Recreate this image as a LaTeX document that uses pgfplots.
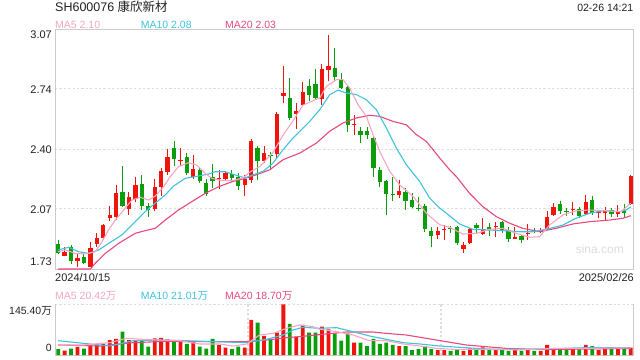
\documentclass[border=0pt]{standalone}
\usepackage{pgfplots}
\pgfplotsset{compat=1.18}
\usepackage{pgfplotstable}
\usepackage{fontspec}
\setmainfont{Liberation Sans}
\newfontfamily\cjk{Noto Sans CJK SC}
\definecolor{upred}{HTML}{F0140C}
\definecolor{dngreen}{HTML}{0A9E0A}
\definecolor{maA}{HTML}{F7A6C2}
\definecolor{maB}{HTML}{3EC3E0}
\definecolor{maC}{HTML}{E8497D}
\definecolor{framegray}{HTML}{CCCCCC}
\definecolor{gridgray}{HTML}{DDDDDD}
\definecolor{txt}{HTML}{222222}

% candles: i open high low close
\pgfplotstableread{
i o h l c
1 1.807 1.854 1.805 1.829
3 1.779 1.817 1.746 1.794
5 1.746 1.884 1.744 1.850
6 1.872 1.935 1.857 1.906
7 1.908 1.984 1.895 1.977
8 2.019 2.085 2.001 2.033
9 2.025 2.200 2.006 2.155
11 2.066 2.164 2.036 2.133
12 2.122 2.248 2.109 2.200
15 2.066 2.237 2.058 2.189
16 2.189 2.297 2.140 2.278
17 2.276 2.401 2.259 2.358
19 2.338 2.408 2.308 2.344
21 2.248 2.368 2.235 2.289
25 2.236 2.286 2.181 2.242
26 2.237 2.278 2.230 2.270
29 2.199 2.256 2.138 2.233
30 2.228 2.457 2.215 2.447
32 2.337 2.418 2.326 2.379
34 2.377 2.609 2.349 2.598
35 2.700 2.866 2.658 2.715
37 2.598 2.658 2.516 2.617
38 2.650 2.777 2.647 2.721
41 2.680 2.877 2.647 2.848
42 2.846 3.038 2.781 2.866
46 2.538 2.594 2.483 2.544
53 2.148 2.231 2.129 2.167
59 1.924 1.966 1.898 1.945
60 1.950 1.977 1.895 1.956
63 1.845 1.885 1.820 1.867
64 1.876 1.960 1.872 1.956
66 1.928 2.016 1.923 1.954
68 1.966 1.997 1.910 1.972
71 1.903 1.966 1.899 1.909
73 1.926 1.984 1.895 1.932
75 1.939 1.960 1.935 1.951
76 1.956 2.055 1.951 2.021
77 2.034 2.100 2.030 2.081
80 2.063 2.109 2.034 2.069
82 2.040 2.146 2.036 2.105
84 2.044 2.062 2.016 2.050
85 2.047 2.081 1.999 2.057
87 2.040 2.090 2.025 2.057
89 2.096 2.258 2.090 2.252
}\redtab
\pgfplotstableread{
i o h l c
0 1.872 1.895 1.817 1.824
2 1.857 1.867 1.761 1.779
4 1.801 1.817 1.761 1.768
10 2.163 2.308 2.077 2.085
13 2.207 2.256 2.062 2.086
14 2.085 2.103 2.025 2.062
18 2.408 2.447 2.308 2.349
20 2.358 2.379 2.256 2.270
22 2.286 2.304 2.215 2.224
23 2.211 2.234 2.140 2.152
24 2.245 2.319 2.187 2.226
27 2.263 2.286 2.220 2.243
28 2.248 2.267 2.174 2.196
31 2.408 2.418 2.230 2.337
33 2.367 2.386 2.289 2.361
36 2.688 2.799 2.565 2.576
39 2.753 2.795 2.669 2.706
40 2.766 2.848 2.676 2.688
43 2.855 2.967 2.781 2.806
44 2.790 2.829 2.739 2.743
45 2.747 2.762 2.498 2.538
47 2.502 2.527 2.436 2.483
48 2.502 2.526 2.457 2.483
49 2.464 2.479 2.248 2.297
50 2.284 2.301 2.192 2.217
51 2.222 2.231 2.036 2.153
52 2.151 2.246 2.114 2.145
54 2.163 2.185 2.064 2.114
55 2.118 2.155 2.073 2.079
56 2.076 2.133 2.055 2.070
57 2.083 2.096 1.939 1.958
58 1.945 1.966 1.856 1.917
61 1.961 1.973 1.932 1.954
62 1.966 1.973 1.867 1.880
65 1.977 1.988 1.932 1.962
67 1.969 1.988 1.917 1.954
69 1.995 2.002 1.935 1.945
70 1.951 1.966 1.885 1.899
72 1.917 1.923 1.880 1.895
74 1.951 1.962 1.934 1.941
78 2.096 2.114 2.040 2.057
79 2.056 2.072 2.029 2.050
81 2.066 2.077 2.016 2.030
83 2.116 2.140 2.034 2.044
86 2.062 2.072 2.025 2.038
88 2.062 2.096 2.025 2.047
}\greentab

\pgfplotstableread{
i p
0 1.829
1.1 1.839
2.66 1.820
4.2 1.817
5.76 1.829
6.8 1.885
7.84 1.951
8.87 2.006
10.17 2.062
11.46 2.118
12.75 2.133
14.05 2.118
15.08 2.140
16.38 2.192
17.4 2.248
18.7 2.304
20.26 2.326
21.55 2.313
22.84 2.267
23.88 2.239
25.43 2.226
27 2.226
28.74 2.241
29.78 2.274
31.34 2.305
33.4 2.385
34.95 2.480
36.5 2.560
38.06 2.648
39.6 2.672
40.65 2.688
41.7 2.753
43.25 2.790
44.27 2.790
45.3 2.743
46.6 2.650
47.9 2.585
48.93 2.483
49.97 2.390
51.5 2.280
53.07 2.203
55.14 2.139
57.2 2.045
59.29 1.980
60.84 1.966
62.9 1.928
65 1.932
67.05 1.954
69.1 1.960
71.2 1.932
73.26 1.910
74.8 1.913
76.37 1.978
78.43 2.034
80.5 2.058
82.58 2.062
85.17 2.058
87.5 2.053
89 2.100
}\maAtab
\pgfplotstableread{
i p
0 1.839
1.63 1.854
3.18 1.829
4.74 1.820
6.29 1.839
7.84 1.876
9.9 1.923
11.97 1.997
13.52 2.053
15.08 2.100
16.63 2.146
17.93 2.196
19.74 2.239
21.8 2.252
23.37 2.263
24.4 2.276
25.95 2.276
27.5 2.258
29.05 2.241
30.3 2.259
31.85 2.278
33.4 2.325
34.95 2.399
36.5 2.464
39.1 2.557
40.65 2.622
42.2 2.706
43.5 2.732
44.8 2.715
46.35 2.706
47.9 2.678
49.46 2.622
51 2.520
52.56 2.408
54.1 2.315
56.18 2.222
57.73 2.129
59.29 2.073
60.84 2.030
62.4 1.984
64.46 1.954
66.54 1.951
69.1 1.947
71.7 1.941
73.77 1.941
75.85 1.954
78.43 1.978
80.5 2.016
82.58 2.044
84.66 2.058
87.24 2.053
88.28 2.062
89 2.080
}\maBtab
\pgfplotstableread{
i p
0 1.733
5.0 1.733
5.76 1.765
7.31 1.820
9.39 1.876
11.97 1.932
13.52 1.947
15.08 1.960
16.63 2.006
18.7 2.062
20.78 2.109
22.84 2.155
24.92 2.192
27 2.220
29.05 2.239
30.8 2.259
32.9 2.287
34.95 2.343
37.55 2.380
40.14 2.436
42.2 2.502
44.27 2.548
46.35 2.576
48.42 2.591
49.97 2.585
52.03 2.557
54.1 2.538
55.67 2.483
57.2 2.446
59.29 2.353
60.84 2.287
61.9 2.248
63.95 2.155
66 2.081
68.1 2.025
70.2 1.988
72.2 1.960
74.8 1.941
77.4 1.960
79.97 1.984
82.58 1.997
85.68 2.006
87.75 2.016
89 2.030
}\maCtab

% volume (10k shares)
\pgfplotstableread{
i v
1 12.4
3 23.0
5 27.7
6 31.6
7 31.6
8 43.0
9 45.9
11 43.0
12 40.2
15 47.8
16 48.8
17 45.0
19 39.2
21 38.3
25 28.7
26 21.0
29 21.0
30 100.4
32 54.5
34 64.1
35 145.4
37 52.6
38 86.1
41 81.3
42 73.7
46 35.4
53 25.8
59 14.3
60 14.3
63 11.5
64 19.1
66 22.0
68 16.3
71 14.3
73 14.3
75 11.5
76 28.7
77 19.1
80 19.1
82 28.7
84 14.3
85 21.0
87 22.0
89 21.0
}\volred
\pgfplotstableread{
i v
0 17.2
2 18.2
4 18.2
10 67.0
13 40.2
14 23.9
18 39.2
20 31.6
22 23.9
23 18.2
24 45.9
27 17.2
28 23.9
31 92.8
33 45.9
36 89.0
39 64.1
40 64.1
43 62.2
44 41.1
45 62.2
47 35.4
48 25.8
49 45.9
50 31.6
51 35.4
52 28.7
54 25.8
55 14.3
56 17.2
57 25.8
58 17.2
61 11.5
62 14.3
65 16.3
67 14.3
69 14.3
70 11.5
72 11.5
74 11.5
78 16.3
79 14.3
81 16.3
83 25.8
86 19.1
88 19.1
}\volgreen
\pgfplotstableread{
i v
0 28.7
3.9 28.7
8.04 35.4
10.6 47.8
13.2 45.0
15.8 43.0
18.9 41.0
22 31.6
25.1 31.6
27.2 25.8
29.3 31.6
31.3 57.4
33.4 62.2
35.5 76.5
37.5 86.1
39.6 81.3
40.65 73.7
43.25 67.0
45.8 57.4
48.4 41.1
51 41.1
53.6 31.6
56.2 25.8
58.8 19.1
61.35 16.3
66.5 16.3
71.7 14.3
76.9 19.1
82.1 19.1
89 20.42
}\vmaA
\pgfplotstableread{
i v
0 41.1
3.9 33.5
8.04 25.8
11.7 41.1
15.8 43.0
19.95 41.0
24.1 38.3
29.3 35.4
32.4 45.0
34.95 57.4
36.5 71.7
38.06 79.4
40.65 76.5
43.25 78.4
45.8 67.0
48.4 54.5
51 45.0
53.6 35.4
56.2 31.6
59.3 25.8
62.4 22.0
66.5 17.2
71.7 16.3
76.9 18.2
82.1 21.0
89 21.01
}\vmaB
\pgfplotstableread{
i v
0 28.7
6.5 25.8
11.7 35.4
16.8 39.2
22 38.3
27.2 38.3
29.3 38.3
32.4 43.0
35.5 49.7
37.5 52.6
40.4 58.0
44.8 66.0
48.9 66.0
51 62.0
54.1 57.4
57.2 47.8
60.3 38.3
63.4 28.7
66.5 23.9
69.6 19.1
73.7 16.3
78.4 16.3
82.1 17.2
89 18.70
}\vmaC

\begin{document}
\begin{tikzpicture}
\useasboundingbox (0bp,0bp) rectangle (640bp,360bp);
\fill[white] (0bp,0bp) rectangle (640bp,360bp);
% ---------- price panel ----------
\begin{axis}[
  at={(55bp,90.5bp)}, anchor=south west,
  width=579bp, height=240bp, scale only axis,
  xmin=-0.5, xmax=89.5, ymin=1.73, ymax=3.07,
  axis line style={framegray, line width=1bp},
  xtick=\empty, ytick={2.07,2.40,2.74}, yticklabels={},
  major tick length=0pt,
  ymajorgrids,
  grid style={gridgray, line width=1.3bp, dash pattern=on 2.2bp off 2.2bp},
  clip=true,
]
% wicks
\addplot[draw=none, mark=none, forget plot,
  error bars/.cd, y dir=plus, y explicit, error mark=none,
  error bar style={draw=upred, line width=1bp, solid}]
  table[x=i, y=l, y error plus expr=\thisrow{h}-\thisrow{l}] {\redtab};
\addplot[draw=none, mark=none, forget plot,
  error bars/.cd, y dir=plus, y explicit, error mark=none,
  error bar style={draw=dngreen, line width=1bp, solid}]
  table[x=i, y=l, y error plus expr=\thisrow{h}-\thisrow{l}] {\greentab};
% bodies
\addplot[draw=none, mark=none, forget plot,
  error bars/.cd, y dir=plus, y explicit, error mark=none,
  error bar style={draw=upred, line width=4.3bp, solid}]
  table[x=i, y=o, y error plus expr=\thisrow{c}-\thisrow{o}] {\redtab};
\addplot[draw=none, mark=none, forget plot,
  error bars/.cd, y dir=plus, y explicit, error mark=none,
  error bar style={draw=dngreen, line width=4.3bp, solid}]
  table[x=i, y=c, y error plus expr=\thisrow{o}-\thisrow{c}] {\greentab};
% moving averages
\addplot[maC, line width=1.1bp, mark=none] table[x=i, y=p] {\maCtab};
\addplot[maB, line width=1.1bp, mark=none] table[x=i, y=p] {\maBtab};
\addplot[maA, line width=1.1bp, mark=none] table[x=i, y=p] {\maAtab};
\end{axis}
% ---------- volume panel ----------
\begin{axis}[
  at={(55bp,5bp)}, anchor=south west,
  width=579bp, height=50.7bp, scale only axis,
  xmin=-0.5, xmax=89.5, ymin=0, ymax=145.4,
  axis line style={draw=none},
  xtick={29.5,59.5}, xticklabels={}, ytick={145.4}, yticklabels={},
  major tick length=0pt,
  xmajorgrids, ymajorgrids,
  grid style={gridgray, line width=1.3bp, dash pattern=on 2.2bp off 2.2bp},
  clip=false,
]
\draw[framegray, line width=1bp] (rel axis cs:0,1) -- (rel axis cs:0,0) -- (rel axis cs:1,0) -- (rel axis cs:1,1);
\addplot[ybar, bar width=3.8bp, bar shift=0pt, fill=upred, draw=none] table[x=i, y=v] {\volred};
\addplot[ybar, bar width=3.8bp, bar shift=0pt, fill=dngreen, draw=none] table[x=i, y=v] {\volgreen};
\addplot[maC, line width=1.1bp, mark=none] table[x=i, y=v] {\vmaC};
\addplot[maB, line width=1.1bp, mark=none] table[x=i, y=v] {\vmaB};
\addplot[maA, line width=1.1bp, mark=none] table[x=i, y=v] {\vmaA};
\end{axis}
% ---------- texts ----------
\begin{scope}[every node/.style={inner sep=0pt, text=txt}]
\node[anchor=base west, font=\fontsize{12.5bp}{14bp}\selectfont] at (55bp,348.3bp) {SH600076 {\cjk 康欣新材}};
\node[anchor=base east, font=\fontsize{10.5bp}{12bp}\selectfont] at (633.5bp,348.3bp) {02-26 14:21};
\node[anchor=base west, font=\fontsize{10.5bp}{12bp}\selectfont, text=maA] at (55bp,331.7bp) {MA5 2.10};
\node[anchor=base west, font=\fontsize{10.5bp}{12bp}\selectfont, text=maB] at (140.7bp,331.7bp) {MA10 2.08};
\node[anchor=base west, font=\fontsize{10.5bp}{12bp}\selectfont, text=maC] at (225bp,331.7bp) {MA20 2.03};
\node[anchor=base east, font=\fontsize{11bp}{13bp}\selectfont] at (52bp,321bp) {3.07};
\node[anchor=base east, font=\fontsize{11bp}{13bp}\selectfont] at (52bp,266bp) {2.74};
\node[anchor=base east, font=\fontsize{11bp}{13bp}\selectfont] at (52bp,206bp) {2.40};
\node[anchor=base east, font=\fontsize{11bp}{13bp}\selectfont] at (52bp,146.7bp) {2.07};
\node[anchor=base east, font=\fontsize{11bp}{13bp}\selectfont] at (52bp,94bp) {1.73};
\node[anchor=base west, font=\fontsize{11bp}{13bp}\selectfont] at (55bp,78.3bp) {2024/10/15};
\node[anchor=base east, font=\fontsize{11bp}{13bp}\selectfont] at (634bp,78.3bp) {2025/02/26};
\node[anchor=base west, font=\fontsize{10.5bp}{12bp}\selectfont, text=maA] at (55bp,60.7bp) {MA5 20.42{\cjk 万}};
\node[anchor=base west, font=\fontsize{10.5bp}{12bp}\selectfont, text=maB] at (140.7bp,60.7bp) {MA10 21.01{\cjk 万}};
\node[anchor=base west, font=\fontsize{10.5bp}{12bp}\selectfont, text=maC] at (225bp,60.7bp) {MA20 18.70{\cjk 万}};
\node[anchor=base east, font=\fontsize{10.5bp}{12bp}\selectfont] at (52bp,45bp) {145.40{\cjk 万}};
\node[anchor=base east, font=\fontsize{10.5bp}{12bp}\selectfont] at (52bp,8.3bp) {0};
\node[anchor=base east, font=\fontsize{12bp}{14bp}\selectfont, text=gridgray] at (624bp,106.5bp) {sina.com};
\end{scope}
\end{tikzpicture}
\end{document}
